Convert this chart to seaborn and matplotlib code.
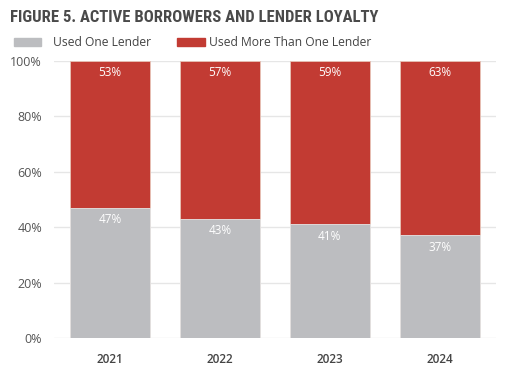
import pandas as pd
import matplotlib.pyplot as plt
import matplotlib.patches as mpatches
import seaborn as sns

# values (percent of active borrowers)
years = ["2021", "2022", "2023", "2024"]
one_lender = [47, 43, 41, 37]
more_lenders = [53, 57, 59, 63]
legend_labels = ["Used One Lender", "Used More Than One Lender"]

gray = "#BCBDC0"
red = "#C23B33"

df = pd.DataFrame({"year": years, "one": one_lender, "more": more_lenders})
df["total"] = df["one"] + df["more"]

sns.set_theme(style="white")
plt.rcParams["font.family"] = ["Open Sans", "DejaVu Sans"]

fig = plt.figure(figsize=(5.09, 3.79), dpi=100)
ax = fig.add_axes([0.106, 0.108, 0.868, 0.732])

## stacked bars: full height in red, lower part in gray on top
sns.barplot(data=df, x="year", y="total", color=red, width=0.727,
            edgecolor="#E8C4B8", linewidth=0.6, saturation=1, ax=ax, zorder=2)
sns.barplot(data=df, x="year", y="one", color=gray, width=0.727,
            edgecolor="#E6E6E6", linewidth=0.6, saturation=1, ax=ax, zorder=3)

for i, row in df.iterrows():
    ax.text(i, row["total"] - 4.3, f"{row['more']}%", ha="center", va="center",
            color="white", fontsize=8.5, zorder=4)
    ax.text(i, row["one"] - 4.3, f"{row['one']}%", ha="center", va="center",
            color="white", fontsize=8.5, zorder=4)

ax.set_xlim(-0.51, 3.51)
ax.set_ylim(0, 100)
ax.set_yticks([0, 20, 40, 60, 80, 100])
ax.set_yticklabels([f"{v}%" for v in range(0, 101, 20)])
ax.yaxis.grid(True, color="#E6E6E6", linewidth=1)
ax.set_axisbelow(True)
for s in ax.spines.values():
    s.set_visible(False)
ax.tick_params(axis="y", labelsize=9, colors="#555555", length=0, pad=8.5)
ax.tick_params(axis="x", labelsize=8.5, colors="#444444", length=0, pad=11)
for lbl in ax.get_xticklabels():
    lbl.set_fontweight("semibold")
ax.set_xlabel("")
ax.set_ylabel("")

fig.text(0.02, 0.955, "FIGURE 5. ACTIVE BORROWERS AND LENDER LOYALTY",
         family=["Roboto Condensed", "Roboto", "DejaVu Sans"], fontstretch="condensed",
         fontweight="bold", fontsize=12, color="#4A4A4A", va="center", ha="left")

## legend drawn by hand so the gaps match the reference
W, H = 509, 379
for (x0, x1, tx), c, lab in zip([(14, 41, 53), (177, 205, 209)], [gray, red], legend_labels):
    fig.patches.append(mpatches.Rectangle((x0 / W, 1 - 46 / H), (x1 - x0) / W, 8 / H,
                                          transform=fig.transFigure, color=c))
    fig.text(tx / W, 1 - 42 / H, lab, fontsize=8.7, color="#444444", va="center", ha="left")

fig.savefig("out.png", dpi=100)
